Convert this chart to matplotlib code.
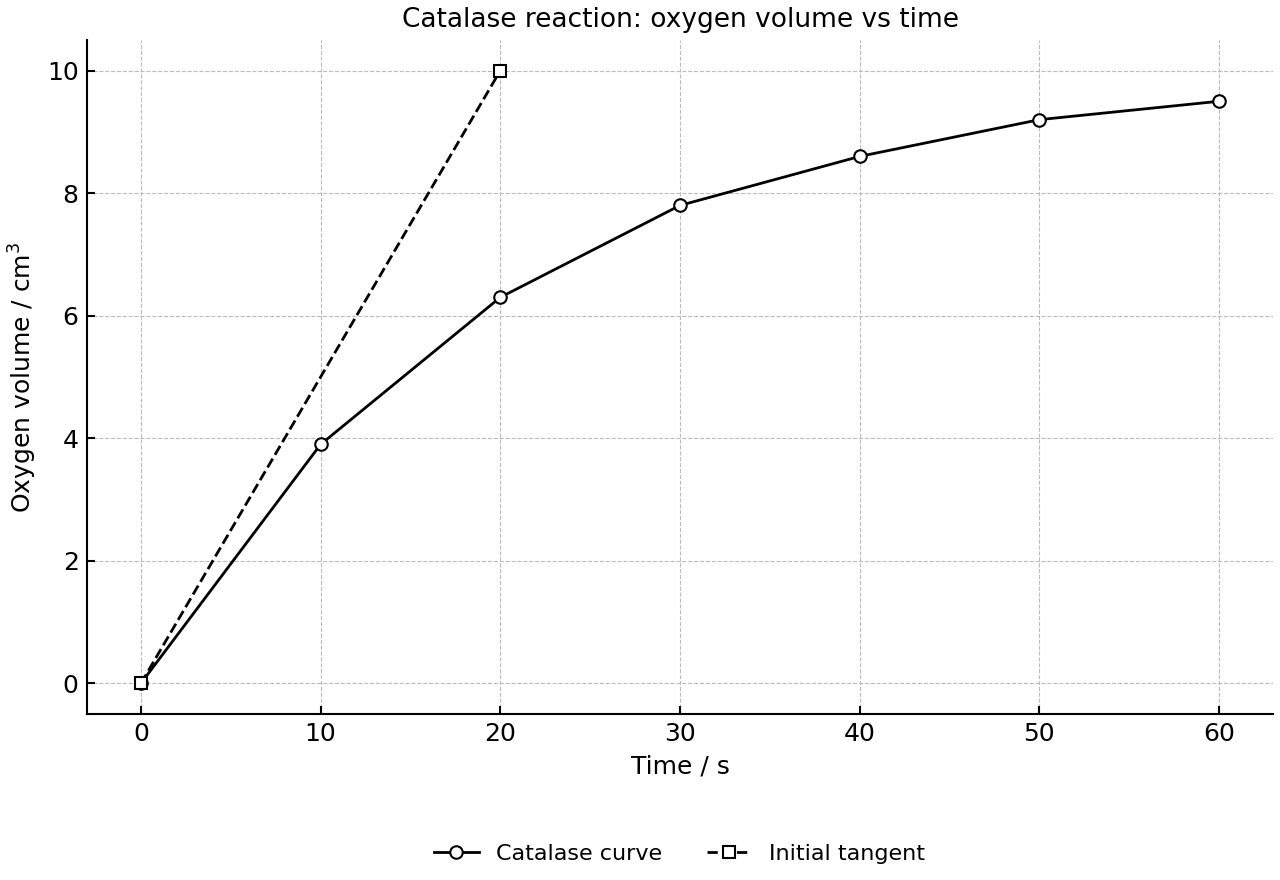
import matplotlib
matplotlib.use("Agg")
import matplotlib.pyplot as plt

time_s = [0, 10, 20, 30, 40, 50, 60]
oxygen_cm3 = [0, 3.9, 6.3, 7.8, 8.6, 9.2, 9.5]
tangent_t = [0, 20]
tangent_v = [0, 10]

fig = plt.figure(figsize=(12.8, 8.8), dpi=100)
ax = fig.add_axes([87/1280, 1-714/880, (1273-87)/1280, (714-40)/880])

ax.plot(time_s, oxygen_cm3, color="black", lw=2, marker="o", ms=9,
        mfc="white", mec="black", mew=1.5, label="Catalase curve", zorder=3)
ax.plot(tangent_t, tangent_v, color="black", lw=2, ls="--", marker="s", ms=9,
        mfc="white", mec="black", mew=1.5, label="Initial tangent", zorder=3)

ax.set_xlim(-3, 63)
ax.set_ylim(-0.5, 10.5)
ax.set_xticks([0, 10, 20, 30, 40, 50, 60])
ax.set_yticks([0, 2, 4, 6, 8, 10])
ax.grid(True, ls="--", color="#bbbbbb", lw=0.8)
ax.set_axisbelow(True)
for s in ["top", "right"]:
    ax.spines[s].set_visible(False)
for s in ["left", "bottom"]:
    ax.spines[s].set_linewidth(1.5)
ax.tick_params(direction="in", labelsize=18, width=1.5, length=6, pad=6)

ax.set_title("Catalase reaction: oxygen volume vs time", fontsize=19, pad=9.5)
ax.set_xlabel("Time / s", fontsize=18, labelpad=6)
ax.set_ylabel("Oxygen volume / cm$^3$", fontsize=18, labelpad=6)

fig.legend(loc="center", bbox_to_anchor=(0.531, 1-854/880),
           ncol=2, frameon=False, fontsize=16, handlelength=2, columnspacing=2.0)

fig.savefig("out.png", dpi=100)
